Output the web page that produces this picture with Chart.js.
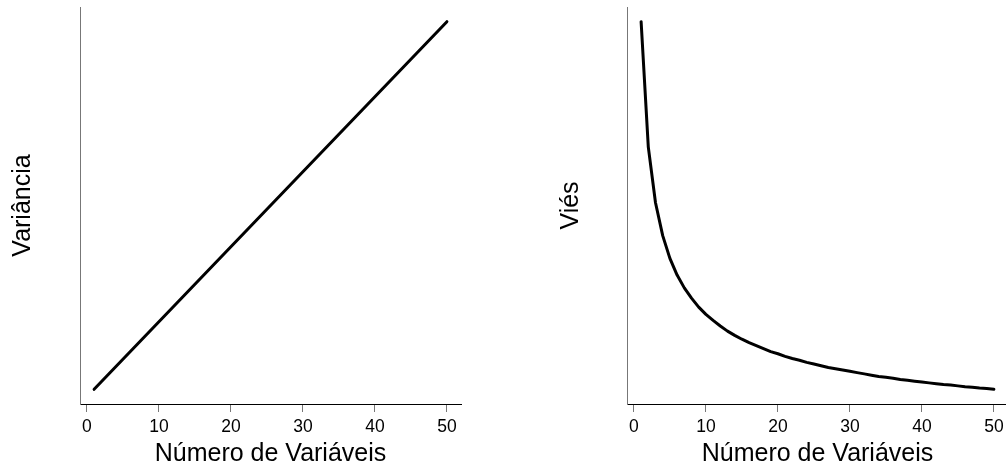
<!DOCTYPE html>
<html>
<head>
<meta charset="utf-8">
<script src="https://cdn.jsdelivr.net/npm/chart.js@4"></script>
<style>
html,body{margin:0;padding:0;background:#fff;width:1006px;height:470px;overflow:hidden;position:relative;}
canvas{position:absolute;top:0;}
#c1{left:0;}
#c2{left:503px;}
</style>
</head>
<body>
<canvas id="c1" width="503" height="470"></canvas>
<canvas id="c2" width="510" height="470"></canvas>
<script>
// ---- data ----
const numVariables = [1,2,3,4,5,6,7,8,9,10,11,12,13,14,15,16,17,18,19,20,21,22,23,24,25,26,27,28,29,30,31,32,33,34,35,36,37,38,39,40,41,42,43,44,45,46,47,48,49,50];
const variance = [1,2,3,4,5,6,7,8,9,10,11,12,13,14,15,16,17,18,19,20,21,22,23,24,25,26,27,28,29,30,31,32,33,34,35,36,37,38,39,40,41,42,43,44,45,46,47,48,49,50];
const bias = [1.000,0.707,0.577,0.500,0.447,0.408,0.378,0.354,0.333,0.316,0.302,0.289,0.277,0.267,0.258,0.250,0.243,0.236,0.229,0.224,0.218,0.213,0.209,0.204,0.200,0.196,0.192,0.189,0.186,0.183,0.180,0.177,0.174,0.171,0.169,0.167,0.164,0.162,0.160,0.158,0.156,0.154,0.152,0.151,0.149,0.147,0.146,0.144,0.143,0.141];
const xTickValues = [0,10,20,30,40,50];
const xTitle = 'Número de Variáveis';
const leftTitle = 'Variância';
const rightTitle = 'Viés';

function expand(arr, f){
  const mn = Math.min(...arr), mx = Math.max(...arr), d = (mx-mn)*f;
  return {min: mn-d, max: mx+d};
}

const FONT = 'Liberation Sans, Arial, sans-serif';

function makeChart(id, yvals, ytitle, cfg){
  const xr = expand(numVariables, 0.04);
  const yr = expand(yvals, 0.04);
  return new Chart(document.getElementById(id), {
    type: 'line',
    data: {
      datasets: [{
        data: numVariables.map((x,i)=>({x:x, y:yvals[i]})),
        borderColor: '#000',
        borderWidth: 3,
        borderCapStyle: 'round',
        borderJoinStyle: 'round',
        pointRadius: 0,
        tension: 0,
        fill: false
      }]
    },
    options: {
      responsive: false,
      animation: false,
      devicePixelRatio: 1,
      layout: {padding: {left: 0, top: 7, right: cfg.padRight, bottom: 0}},
      plugins: {legend: {display: false}, tooltip: {enabled: false}},
      scales: {
        x: {
          type: 'linear',
          min: xr.min, max: xr.max,
          afterBuildTicks: s => { s.ticks = xTickValues.map(v=>({value:v})); },
          afterFit: s => { s.height = 66; },
          border: {display: true, color: '#000', width: 1},
          grid: {display: true, drawOnChartArea: false, drawTicks: true, tickLength: 8, color: '#777', lineWidth: 1},
          ticks: {color: '#000', padding: 5, font: {family: FONT, size: 17.5}, maxRotation: 0, autoSkip: false},
          title: {display: true, text: xTitle, color: '#000', font: {family: FONT, size: 25}, padding: {top: 0, bottom: 1}}
        },
        y: {
          type: 'linear',
          min: yr.min, max: yr.max,
          afterFit: s => { s.width = cfg.yWidth; },
          border: {display: true, color: '#777', width: 1},
          grid: {display: false},
          ticks: {display: false},
          title: {display: true, text: ytitle, color: '#000', font: {family: FONT, size: 25}, padding: {top: cfg.titlePad, bottom: 0}}
        }
      }
    }
  });
}

makeChart('c1', variance, leftTitle, {padRight: 42, yWidth: 80, titlePad: 8.6});
makeChart('c2', bias, rightTitle, {padRight: 5, yWidth: 124, titlePad: 53.3});
</script>
</body>
</html>
